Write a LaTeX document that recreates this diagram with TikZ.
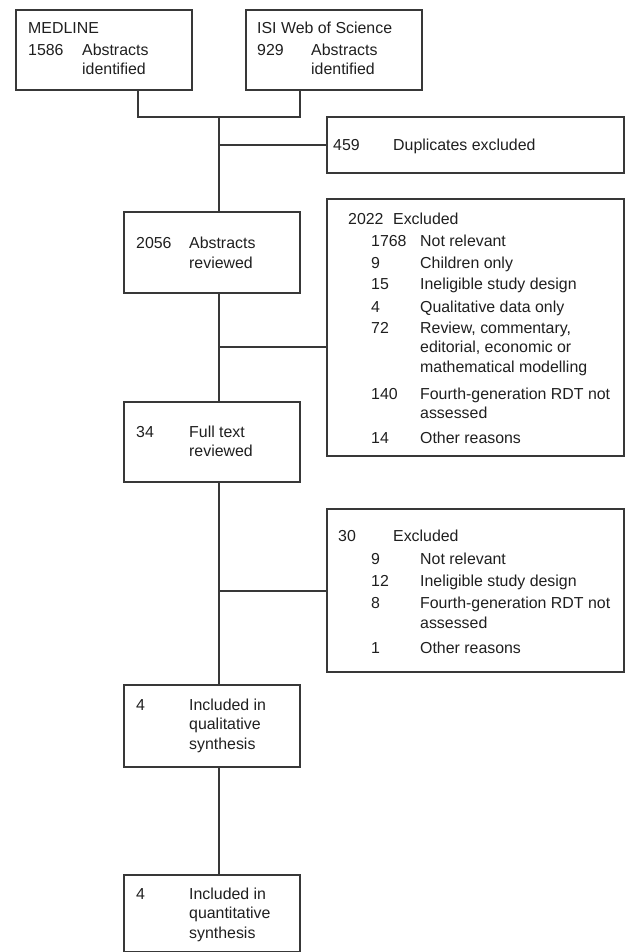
\documentclass[tikz,border=0pt]{standalone}
\usepackage{fontspec}
\setmainfont{Liberation Sans}
\usepackage{tikz}
\usetikzlibrary{calc,positioning}
\definecolor{linegray}{gray}{0.22}
\definecolor{textgray}{gray}{0.12}
\tikzset{
    box/.style={draw=linegray, line width=1.1pt, rectangle, inner sep=0pt, outer sep=0pt, anchor=north west},
    txt/.style={text=textgray, inner sep=0pt, anchor=base west, font=\fontsize{15.9}{19.5}\selectfont},
    link/.style={draw=linegray, line width=1.1pt},
}
% number column, then the description
\newcommand{\numcol}[3]{\makebox[#1pt][l]{#2}#3}
% indented item of an exclusion list
\newcommand{\exclitem}[3]{\hspace*{#1pt}\makebox[49pt][l]{#2}#3}

\begin{document}
\begin{tikzpicture}[x=1pt,y=1pt,yscale=-1,xscale=1]
\useasboundingbox (0,0) rectangle (625,952);
%Boxes
\node[box, minimum width=176, minimum height=80] (medline) at (16,10) {};
\node[box, minimum width=176, minimum height=80] (isi) at (246,10) {};
\node[box, minimum width=297, minimum height=56] (dup) at (327,117) {};
\node[box, minimum width=176, minimum height=81] (absrev) at (124,212) {};
\node[box, minimum width=297, minimum height=257] (excla) at (327,199) {};
\node[box, minimum width=176, minimum height=80] (fulltext) at (124,402) {};
\node[box, minimum width=297, minimum height=163] (exclb) at (327,509) {};
\node[box, minimum width=176, minimum height=82] (qual) at (124,685) {};
\node[box, minimum width=176, minimum height=76.5] (quant) at (124,875) {};
%Texts
\node[txt] (medlinetxt) at (28,34) {\begin{tabular}[t]{@{}l@{}}
MEDLINE\\[2pt]
\numcol{54}{1586}{Abstracts}\\
\numcol{54}{}{identified}
\end{tabular}};
\node[txt] (isitxt) at (257,34) {\begin{tabular}[t]{@{}l@{}}
ISI Web of Science\\[2pt]
\numcol{54}{929}{Abstracts}\\
\numcol{54}{}{identified}
\end{tabular}};
\node[txt] (duptxt) at (333,151) {\numcol{60}{459}{Duplicates excluded}};
\node[txt] (absrevtxt) at (136,248.5) {\begin{tabular}[t]{@{}l@{}}
\numcol{53}{2056}{Abstracts}\\
\numcol{53}{}{reviewed}
\end{tabular}};
\node[txt] (exclatxt) at (348,224) {\begin{tabular}[t]{@{}l@{}}
\numcol{45}{2022}{Excluded}\\[3pt]
\exclitem{23}{1768}{Not relevant}\\[2.5pt]
\exclitem{23}{9}{Children only}\\[1.5pt]
\exclitem{23}{15}{Ineligible study design}\\[3pt]
\exclitem{23}{4}{Qualitative data only}\\[1.5pt]
\exclitem{23}{72}{Review, commentary,}\\
\exclitem{23}{}{editorial, economic or}\\
\exclitem{23}{}{mathematical modelling}\\[7.5pt]
\exclitem{23}{140}{Fourth-generation RDT not}\\
\exclitem{23}{}{assessed}\\[5.5pt]
\exclitem{23}{14}{Other reasons}
\end{tabular}};
\node[txt] (fulltexttxt) at (136,437) {\begin{tabular}[t]{@{}l@{}}
\numcol{53}{34}{Full text}\\
\numcol{53}{}{reviewed}
\end{tabular}};
\node[txt] (exclbtxt) at (338,541.5) {\begin{tabular}[t]{@{}l@{}}
\numcol{55}{30}{Excluded}\\[3.5pt]
\exclitem{33}{9}{Not relevant}\\[2.5pt]
\exclitem{33}{12}{Ineligible study design}\\[2.5pt]
\exclitem{33}{8}{Fourth-generation RDT not}\\
\exclitem{33}{}{assessed}\\[5.5pt]
\exclitem{33}{1}{Other reasons}
\end{tabular}};
\node[txt] (qualtxt) at (136,710) {\begin{tabular}[t]{@{}l@{}}
\numcol{53}{4}{Included in}\\
\numcol{53}{}{qualitative}\\
\numcol{53}{}{synthesis}
\end{tabular}};
\node[txt] (quanttxt) at (136,899) {\begin{tabular}[t]{@{}l@{}}
\numcol{53}{4}{Included in}\\
\numcol{53}{}{quantitative}\\
\numcol{53}{}{synthesis}
\end{tabular}};
%Connectors
\coordinate (medout) at (138,90);
\coordinate (isiout) at (300,90);
\coordinate (join) at (219,117);
\coordinate (brancha) at (219,347);
\coordinate (branchb) at (219,591);
\draw[link] (medout) |- (join) -| (isiout);
\draw[link] (join) -- (join |- absrev.north);
\draw[link] (join |- dup.west) -- (dup.west);
\draw[link] (join |- absrev.south) -- (join |- fulltext.north);
\draw[link] (brancha) -- (brancha -| excla.west);
\draw[link] (join |- fulltext.south) -- (join |- qual.north);
\draw[link] (branchb) -- (branchb -| exclb.west);
\draw[link] (join |- qual.south) -- (join |- quant.north);
\end{tikzpicture}
\end{document}
